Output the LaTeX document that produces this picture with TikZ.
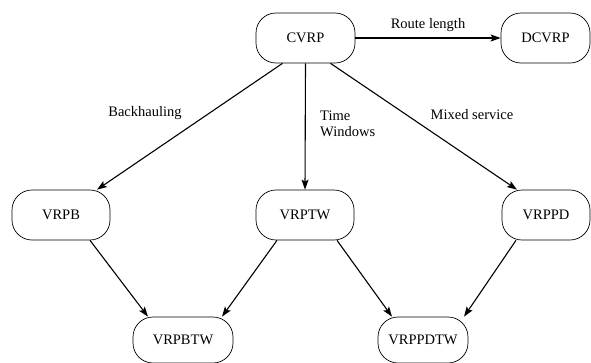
\documentclass[tikz,border=0pt]{standalone}
\usepackage{fontspec}
\setmainfont{Liberation Serif}
\usepackage{tikz}
\usetikzlibrary{arrows.meta}
\tikzset{prob/.style={draw,rounded corners=20pt,minimum height=50pt,inner sep=0pt,line width=0.7pt},
  link/.style={-{Stealth[length=10pt,width=7pt,inset=2pt]},line width=1.1pt},
  lbl/.style={inner sep=0pt,align=left}}

\begin{document}
\begin{tikzpicture}[x=1pt,y=-1pt,font=\fontsize{14.5}{16}\selectfont]
\useasboundingbox (0,0) rectangle (591,362);
\node[prob,minimum width=99pt] (cvrp) at (305.5,38) {CVRP};
\node[prob,minimum width=89pt] (dcvrp) at (545.5,38) {DCVRP};
\node[prob,minimum width=98pt] (vrpb) at (61,215) {VRPB};
\node[prob,minimum width=98pt] (vrptw) at (305,215) {VRPTW};
\node[prob,minimum width=88pt] (vrppd) at (546,215) {VRPPD};
\node[prob,minimum width=100pt,minimum height=46pt] (vrpbtw) at (183,340) {VRPBTW};
\node[prob,minimum width=90pt,minimum height=46pt] (vrppdtw) at (423,340) {VRPPDTW};

\draw[link] (cvrp.east) -- (dcvrp.west);
\draw[link] ([xshift=-23pt]cvrp.south) -- ([xshift=36pt]vrpb.north);
\draw[link] (cvrp.south) -- (vrptw.north);
\draw[link] ([xshift=25pt]cvrp.south) -- ([xshift=-29pt]vrppd.north);
\draw[link] ([xshift=29pt]vrpb.south) -- ([xshift=-35pt]vrpbtw.north);
\draw[link] ([xshift=-28pt]vrptw.south) -- ([xshift=39pt]vrpbtw.north);
\draw[link] ([xshift=32pt]vrptw.south) -- ([xshift=-31pt]vrppdtw.north);
\draw[link] ([xshift=-30pt]vrppd.south) -- ([xshift=41pt]vrppdtw.north);

\node[lbl] (route) at (428,25) {Route length};
\node[lbl] (back) at (145,113) {Backhauling};
\node[lbl,anchor=west] (time) at (320,124) {Time\\Windows};
\node[lbl] (mixed) at (472,115) {Mixed service};
\end{tikzpicture}
\end{document}
